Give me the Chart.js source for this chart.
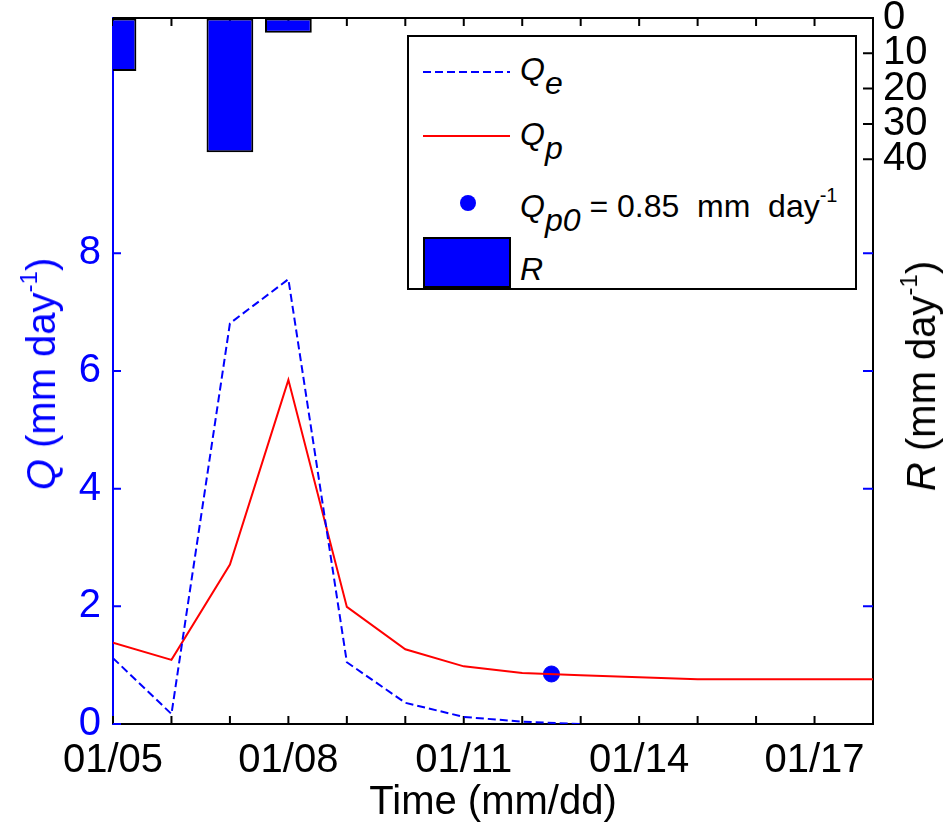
<!DOCTYPE html>
<html>
<head>
<meta charset="utf-8">
<script src="https://cdn.jsdelivr.net/npm/chart.js@4.4.1/dist/chart.umd.min.js"></script>
<style>
    body { margin: 0; background: #fff; font-family: "Liberation Sans", Arial, sans-serif; }
    #wrap { position: relative; width: 946px; height: 824px; overflow: hidden; }
    #chart-box { position: absolute; left: 0; top: 0; width: 946px; height: 824px; }
    .axis-title { position: absolute; font-size: 40px; line-height: 1; white-space: nowrap; transform: translate(-50%, -50%) rotate(-90deg); }
    .axis-title sup { font-size: 24px; position: relative; top: -4px; vertical-align: top; line-height: 1; }
    #legend { position: absolute; left: 407px; top: 35px; width: 446px; height: 251px; border: 2px solid #000; background: #fff; }
    .lg-text { position: absolute; left: 520px; font-size: 32px; line-height: 1; white-space: nowrap; }
    .lg-text i { font-style: italic; }
    .lg-text .sub { font-style: italic; position: relative; top: 14px; }
    .lg-text .sup { font-size: 20px; position: relative; top: -15px; }
</style>
</head>
<body>
<div id="wrap">
    <div id="chart-box"><canvas id="chart"></canvas></div>

    <div class="axis-title" style="left:41px; top:374px; color:#0000ff;"><i>Q</i> (mm day<sup>-1</sup>)</div>
    <div class="axis-title" style="left:921px; top:376px; color:#000;"><i>R</i> (mm day<sup>-1</sup>)</div>

    <div id="legend"></div>
    <svg style="position:absolute; left:0; top:0;" width="946" height="824">
        <line x1="423" y1="72" x2="510" y2="72" stroke="#0000ff" stroke-width="2" stroke-dasharray="8,4"/>
        <line x1="423" y1="136" x2="510" y2="136" stroke="#ff0000" stroke-width="2"/>
        <circle cx="468" cy="203" r="8" fill="#0000ff"/>
        <rect x="424" y="238" width="86" height="49" fill="#0000ff" stroke="#000" stroke-width="2"/>
    </svg>
    <div class="lg-text" style="top:53px;"><i>Q</i><span class="sub">e</span></div>
    <div class="lg-text" style="top:118px;"><i>Q</i><span class="sub">p</span></div>
    <div class="lg-text" style="top:190px;"><i>Q</i><span class="sub">p0</span> = 0.85&nbsp; mm&nbsp; day<span class="sup">-1</span></div>
    <div class="lg-text" style="top:253px;"><i>R</i></div>
</div>

<script>
// days counted from 01/05
const tickDays = [0, 3, 6, 9, 12];
const tickLabels = ['01/05', '01/08', '01/11', '01/14', '01/17'];

const qeDays = [0, 1, 2, 3, 4, 5, 6, 7, 8];
const qeValues = [1.12, 0.17, 6.81, 7.56, 1.05, 0.36, 0.12, 0.04, 0.0];

const qpDays = [0, 1, 2, 3, 4, 5, 6, 7, 8, 9, 10, 11, 12, 13];
const qpValues = [1.38, 1.09, 2.71, 5.85, 1.99, 1.27, 0.98, 0.865, 0.83, 0.795, 0.76, 0.76, 0.76, 0.76];

const qp0Day = [7.5];
const qp0Value = [0.85];

const rainDays = [0, 2, 3];
const rainValues = [15, 38, 4.2];

const BLUE = '#0000ff';
const RED = '#ff0000';
const FONT = { family: '"Liberation Sans", Arial, sans-serif', size: 40 };

const toPoints = (xs, ys) => xs.map((x, i) => ({ x: x, y: ys[i] }));

// matlab style ticks pointing into the plot, plus the top box edge
const inwardTicks = {
    id: 'inwardTicks',
    beforeDatasetsDraw(chart) {
        const { ctx, chartArea: a, scales } = chart;
        const len = 8;
        ctx.save();
        ctx.lineWidth = 2;

        ctx.strokeStyle = '#000';
        ctx.beginPath();
        ctx.moveTo(a.left, a.top);
        ctx.lineTo(a.right + 1, a.top);
        scales.x.ticks.forEach(t => {
            const px = scales.x.getPixelForValue(t.value);
            ctx.moveTo(px, a.bottom);
            ctx.lineTo(px, a.bottom - len);
            ctx.moveTo(px, a.top);
            ctx.lineTo(px, a.top + len);
        });
        scales.yR.ticks.filter(t => t.value <= 40).forEach(t => {
            const py = scales.yR.getPixelForValue(t.value);
            ctx.moveTo(a.right, py);
            ctx.lineTo(a.right - len - 2, py);
        });
        ctx.stroke();

        ctx.strokeStyle = BLUE;
        ctx.beginPath();
        scales.y.ticks.filter(t => t.value <= 8).forEach(t => {
            const py = scales.y.getPixelForValue(t.value);
            ctx.moveTo(a.left, py);
            ctx.lineTo(a.left + len, py);
            if (t.value > 0) {
                ctx.moveTo(a.right, py);
                ctx.lineTo(a.right - len - 2, py);
            }
        });
        ctx.stroke();
        ctx.restore();
    }
};

const fixBox = (w, h) => (scale) => {
    if (w !== null) scale.width = w;
    if (h !== null) scale.height = h;
    scale.paddingTop = 0;
    scale.paddingBottom = 0;
    scale.paddingLeft = 0;
    scale.paddingRight = 0;
};

new Chart(document.getElementById('chart'), {
    data: {
        datasets: [
            {
                type: 'line',
                label: 'Qe',
                data: toPoints(qeDays, qeValues),
                borderColor: BLUE,
                borderWidth: 2,
                borderDash: [8, 4],
                pointRadius: 0,
                tension: 0,
                yAxisID: 'y'
            },
            {
                type: 'line',
                label: 'Qp',
                data: toPoints(qpDays, qpValues),
                borderColor: RED,
                borderWidth: 2,
                pointRadius: 0,
                tension: 0,
                yAxisID: 'y'
            },
            {
                type: 'scatter',
                label: 'Qp0',
                data: toPoints(qp0Day, qp0Value),
                backgroundColor: BLUE,
                borderColor: BLUE,
                pointRadius: 8,
                yAxisID: 'y'
            },
            {
                type: 'bar',
                label: 'R',
                data: toPoints(rainDays, rainValues),
                backgroundColor: BLUE,
                borderColor: '#000',
                borderWidth: 2,
                borderSkipped: false,
                barPercentage: 1,
                categoryPercentage: 0.8,
                clip: 0,
                yAxisID: 'yR'
            }
        ]
    },
    options: {
        responsive: true,
        maintainAspectRatio: false,
        animation: false,
        layout: { padding: { top: 18, left: 0, right: 0, bottom: 0 } },
        plugins: {
            legend: { display: false },
            tooltip: { enabled: false }
        },
        scales: {
            x: {
                type: 'linear',
                position: 'bottom',
                offset: false,
                min: 0,
                max: 13,
                grid: { drawOnChartArea: false, drawTicks: false, offset: false },
                border: { color: '#000', width: 2 },
                ticks: {
                    stepSize: 1,
                    autoSkip: false,
                    maxRotation: 0,
                    padding: 13,
                    color: '#000',
                    font: FONT,
                    callback: (v) => {
                        const i = tickDays.indexOf(v);
                        return i >= 0 ? tickLabels[i] : '';
                    }
                },
                title: { display: true, text: 'Time (mm/dd)', color: '#000', font: FONT, padding: { top: 0, bottom: -3 } },
                afterFit: fixBox(null, 100)
            },
            y: {
                type: 'linear',
                position: 'left',
                min: 0,
                max: 12,
                grid: { drawOnChartArea: false, drawTicks: false },
                border: { color: BLUE, width: 2 },
                ticks: {
                    stepSize: 2,
                    autoSkip: false,
                    padding: 12,
                    color: BLUE,
                    font: FONT,
                    callback: (v) => (v <= 8 ? v : '')
                },
                afterFit: fixBox(113, null)
            },
            yR: {
                type: 'linear',
                position: 'right',
                reverse: true,
                min: 0,
                max: 200,
                grid: { drawOnChartArea: false, drawTicks: false },
                border: { color: '#000', width: 2 },
                ticks: {
                    stepSize: 10,
                    autoSkip: false,
                    padding: 10,
                    color: '#000',
                    font: FONT,
                    callback: (v) => (v <= 40 ? v : '')
                },
                afterFit: fixBox(73, null)
            }
        }
    },
    plugins: [inwardTicks]
});
</script>
</body>
</html>
